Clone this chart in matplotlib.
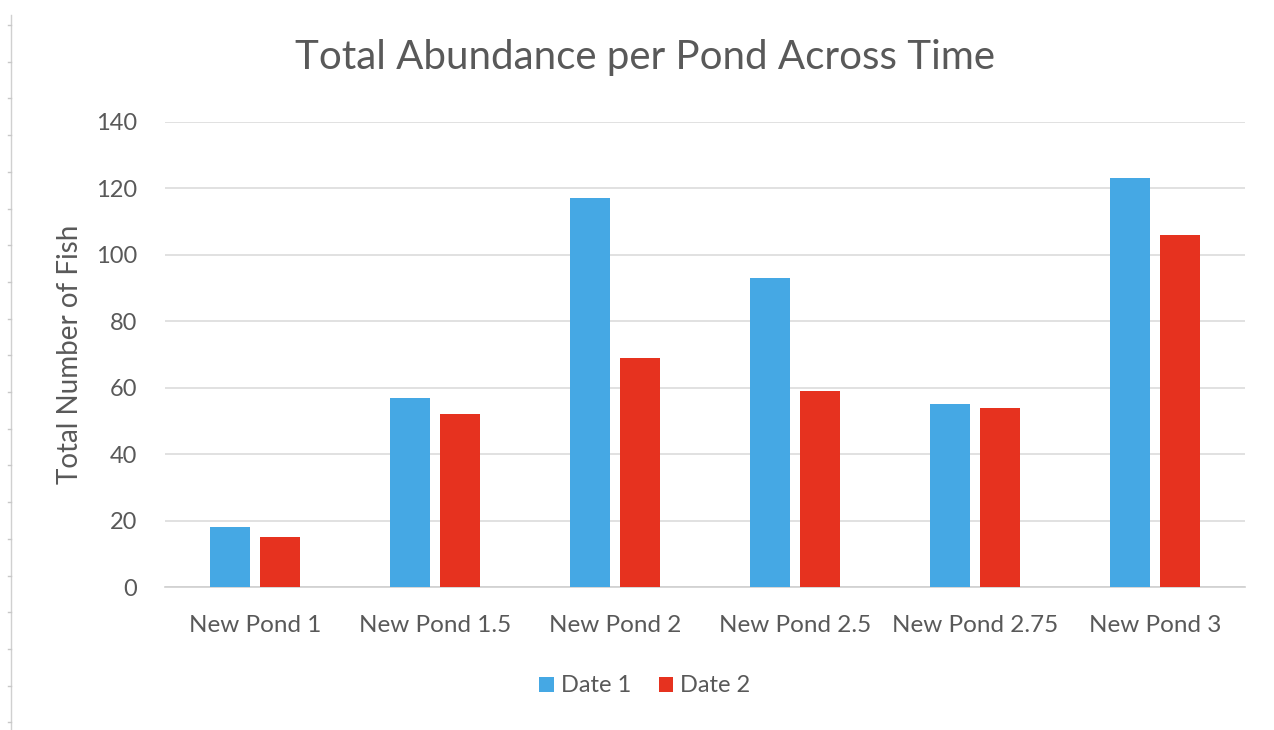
import matplotlib.pyplot as plt
import numpy as np
from matplotlib.lines import Line2D

plt.rcParams["font.family"] = ["Lato", "DejaVu Sans"]

ponds = ["New Pond 1", "New Pond 1.5", "New Pond 2", "New Pond 2.5",
         "New Pond 2.75", "New Pond 3"]
date1 = [18, 57, 117, 93, 55, 123]
date2 = [15, 52, 69, 59, 54, 106]
series_names = ["Date 1", "Date 2"]
yticks = [0, 20, 40, 60, 80, 100, 120, 140]

BLUE = "#45a8e4"
RED = "#e6321f"
TEXT = "#595959"

fig = plt.figure(figsize=(12.74, 7.3), dpi=100)
ax = fig.add_axes([165 / 1274, 1 - 587 / 730, 1080 / 1274, 465 / 730])

x = np.arange(len(ponds))
w = 0.222
off = 0.139
ax.bar(x - off, date1, width=w, color=BLUE, label=series_names[0], zorder=3)
ax.bar(x + off, date2, width=w, color=RED, label=series_names[1], zorder=3)

ax.set_xlim(-0.5, len(ponds) - 0.5)
ax.set_ylim(0, 140)
ax.set_yticks(yticks)
ax.set_yticklabels([str(t) for t in yticks], fontsize=17, color=TEXT)
ax.set_xticks(x)
ax.set_xticklabels(ponds, fontsize=17.5, color=TEXT)
ax.tick_params(length=0, pad=20, axis="y")
ax.tick_params(length=0, pad=20, axis="x")
ax.grid(axis="y", color="#dcdcdc", lw=1.2, zorder=0)
for s in ["top", "right", "left"]:
    ax.spines[s].set_visible(False)
ax.spines["bottom"].set_color("#cfcfcf")
ax.spines["bottom"].set_linewidth(1.2)

ax.set_ylabel("Total Number of Fish", fontsize=20, color=TEXT, labelpad=9)
fig.text(645 / 1274, 1 - 57 / 730, "Total Abundance per Pond Across Time",
         fontsize=29, color=TEXT, ha="center", va="center")

handles, labels = ax.get_legend_handles_labels()
fig.legend(handles, labels, loc="center", bbox_to_anchor=(645 / 1274, 1 - 686 / 730),
           ncol=2, frameon=False, fontsize=17, handlelength=0.6, handleheight=0.6,
           handletextpad=0.3, columnspacing=1.2, labelcolor=TEXT)

# faint ruler line at the left edge of the screenshot
fig.add_artist(Line2D([11 / 1274, 11 / 1274], [0, 1 - 15 / 730],
                      transform=fig.transFigure, color="#d0d0d0", lw=1))
for yy in np.arange(25, 730, 36.7):
    fig.add_artist(Line2D([8 / 1274, 11 / 1274], [1 - yy / 730, 1 - yy / 730],
                          transform=fig.transFigure, color="#c8c8c8", lw=1))

fig.savefig("out.png")
